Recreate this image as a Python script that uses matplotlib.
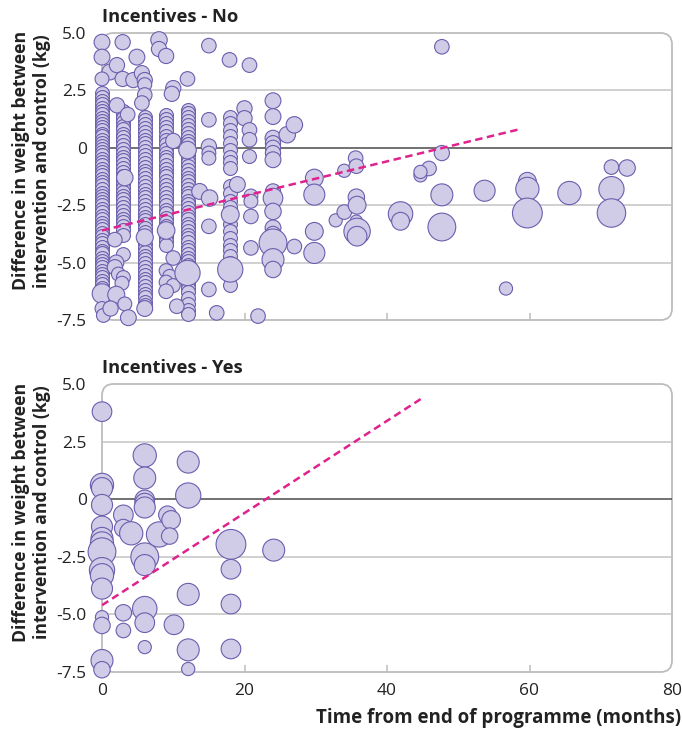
import numpy as np
import matplotlib
matplotlib.use("Agg")
import matplotlib.pyplot as plt
from matplotlib.patches import FancyBboxPatch

plt.rcParams['font.family'] = ['Open Sans', 'DejaVu Sans']

# ---- Incentives - No ----
# dense columns of small studies (all the same weight)
stack_t = [0, 3, 6, 9, 12, 18]
stack_y = [
    [2.38, 2.2, 2.05, 1.92, 1.75, 1.62, 1.48, 1.3, 1.18, 1.02, 0.9, 0.78, 0.62, 0.5, 0.35,
     0.22, 0.1, -0.05, -0.2, -0.32, -0.48, -0.6, -0.75, -0.92, -1.05, -1.2, -1.38, -1.5,
     -1.62, -1.8, -1.95, -2.1, -2.22, -2.38, -2.5, -2.65, -2.8, -2.95, -3.1, -3.28, -3.4,
     -3.55, -3.7, -3.85, -4.0, -4.15, -4.3, -4.48, -4.6, -4.78, -4.92, -5.05, -5.2, -5.35,
     -5.5, -5.62, -5.8, -5.95, -6.1],
    [1.6, 1.45, 1.3, 1.12, 0.95, 0.8, 0.62, 0.45, 0.3, 0.12, -0.05, -0.22, -0.4, -0.55,
     -0.72, -0.9, -1.05, -1.22, -1.4, -1.58, -1.75, -1.92, -2.1, -2.25, -2.42, -2.6, -2.75,
     -2.92, -3.1, -3.25, -3.42, -3.6, -3.78],
    [1.35, 1.2, 1.02, 0.85, 0.7, 0.52, 0.35, 0.2, 0.02, -0.15, -0.32, -0.5, -0.65, -0.82,
     -1.0, -1.15, -1.32, -1.5, -1.65, -1.82, -2.0, -2.15, -2.32, -2.5, -2.65, -2.82, -3.0,
     -3.15, -3.32, -3.5, -3.65, -4.2, -4.35, -4.52, -4.7, -4.85, -5.02, -5.2, -5.35, -5.52,
     -5.7, -5.85, -6.02, -6.2, -6.35, -6.52, -6.7, -6.85],
    [1.45, 1.25, 1.1, 0.9, 0.72, 0.52, 0.35, 0.15, -0.05, -0.22, -0.4, -0.55, -0.75, -0.92,
     -1.1, -1.25, -1.45, -1.62, -1.8, -1.95, -2.15, -2.32, -2.5, -2.7, -2.85, -3.05, -3.22,
     -3.4, -3.88, -4.05, -4.25],
    [1.65, 1.5, 1.32, 1.15, 1.0, 0.8, 0.65, 0.48, 0.3, 0.15, -0.32, -0.48, -0.62, -0.8,
     -0.95, -1.12, -1.3, -1.45, -1.62, -1.8, -1.95, -2.12, -2.3, -2.45, -2.62, -2.8, -2.95,
     -3.12, -3.3, -3.45, -3.62, -3.8, -3.95, -4.12, -4.3, -4.45, -4.62, -4.8, -4.95, -5.12,
     -5.92, -6.12, -6.3, -6.55, -6.8, -7.05, -7.22],
    [1.36, 1.1, 0.78, 0.5, 0.2, -0.09, -0.38, -0.6, -0.88, -1.68, -1.97, -2.3, -2.6, -3.3,
     -3.64, -3.93, -4.22, -4.45, -4.72, -5.0, -5.96],
]

# other studies: time (months), difference (kg), relative weight
no_t = [0, 0, 1.1, 0, 2.9, 4.9, 2.1, 2.9, 4.4, 5.6, 6, 6, 6, 5.6, 2.1, 3.6, 3.2, 1.8, 0, 0, 0.2,
        3, 2, 1.8, 2.3, 3, 2.8, 2, 3.2, 1.2, 3.7, 6, 6,
        8, 8, 9, 10, 9.8, 9, 10, 10, 9, 9.5, 9, 10, 9, 10.5,
        12, 12, 12, 13.7,
        15, 15, 15, 15, 15, 15.1, 15, 15, 16.1,
        17.9, 19, 18, 18,
        20.7, 20, 20, 20.7, 20.7, 20.7, 20.9, 20.9, 20.9, 20.9, 21.9,
        24, 24, 24, 24, 24, 24, 24, 24, 24, 24, 24, 24, 24, 24, 24,
        26, 27, 27, 29.8, 29.8, 29.8, 29.8,
        32.8, 34, 34, 35.6, 35.7, 35.7, 35.8, 35.7, 35.8, 35.8, 41.9, 41.9, 44.7, 45.9, 44.7,
        47.7, 47.7, 47.7, 47.7, 53.7, 56.7, 59.7, 59.7, 59.7, 65.6, 71.5, 73.7, 71.5, 71.5]
no_y = [4.6, 3.95, 3.3, 3.0, 4.6, 3.95, 3.6, 3.0, 2.95, 3.25, 2.95, 2.75, 2.3, 1.95, 1.85, 1.45,
        -1.3, -4.0, -6.35, -7.0, -7.3,
        -4.65, -5.0, -5.2, -5.5, -5.65, -5.9, -6.4, -6.8, -7.0, -7.4, -3.9, -7.0,
        4.7, 4.3, 4.0, 2.6, 2.35, -3.6, 0.3, -4.8, -5.35, -5.6, -5.85, -6.0, -6.25, -6.9,
        3.0, -0.1, -5.45, -1.9,
        4.45, 1.22, 0.06, -0.23, -0.45, -2.19, -3.42, -6.17, -7.19,
        3.83, -1.6, -2.91, -5.3,
        3.6, 1.72, 1.29, 0.78, 0.35, -0.38, -2.1, -2.33, -2.99, -4.36, -7.33,
        2.05, 1.36, 0.42, 0.2, 0.0, -0.23, -0.52, -1.9, -2.19, -2.77, -3.49, -3.75, -4.14,
        -4.87, -5.3,
        0.57, 1.0, -4.3, -1.32, -2.04, -3.64, -4.58,
        -3.16, -2.8, -1.0, -0.45, -0.8, -2.15, -2.5, -3.2, -3.64, -3.85, -2.88, -3.2, -1.2,
        -0.9, -1.05,
        4.4, -0.23, -2.05, -3.45, -1.87, -6.13, -1.46, -1.79, -2.84, -1.97, -0.84, -0.88,
        -1.8, -2.84]
no_w = [1.3, 1.3, 1.3, 1.0, 1.2, 1.3, 1.2, 1.2, 1.2, 1.2, 1.2, 1.0, 1.1, 1.1, 1.2, 1.1,
        1.4, 1.1, 2.0, 1.0, 1.0,
        1.0, 1.2, 1.2, 1.0, 1.0, 1.0, 1.5, 1.0, 1.2, 1.3, 1.5, 1.3,
        1.4, 1.2, 1.2, 1.2, 1.2, 1.6, 1.2, 1.1, 1.0, 1.0, 1.0, 1.0, 1.1, 1.1,
        1.1, 1.6, 3.3, 1.3,
        1.1, 1.1, 1.2, 1.0, 1.0, 1.4, 1.1, 1.1, 1.1,
        1.1, 1.3, 1.65, 3.3,
        1.1, 1.2, 1.2, 1.1, 1.1, 1.0, 1.0, 1.0, 1.1, 1.1, 1.1,
        1.3, 1.3, 1.3, 1.2, 1.2, 1.2, 1.3, 1.2, 2.0, 1.4, 1.3, 1.2, 4.0, 2.5, 1.4,
        1.4, 1.4, 1.1, 1.65, 2.3, 1.65, 2.3,
        0.9, 1.1, 0.9, 1.1, 1.1, 1.4, 1.65, 0.8, 3.6, 2.0, 3.1, 1.65, 0.9, 1.1, 0.9,
        1.1, 1.2, 2.5, 4.0, 2.3, 0.9, 1.65, 2.8, 4.6, 2.8, 1.1, 1.4, 3.3, 4.2]

# ---- Incentives - Yes ----
yes_t = [0, 0, 0, 0, 0, 0, 0, 0, 0, 0, 0, 0, 0, 0, 0,
         3, 3, 4.1, 3, 3,
         6, 6, 6, 6, 6, 6, 6, 6, 6, 6,
         8, 9.2, 9.7, 9.5, 10.1,
         12.1, 12.1, 12.1, 12.1, 12.1,
         18.1, 18.1, 18.1, 18.1, 24.1]
yes_y = [3.8, 0.62, 0.48, -0.25, -1.19, -1.7, -1.92, -2.28, -3.08, -3.3, -3.88, -5.12, -5.48,
         -7.0, -7.4,
         -0.68, -1.26, -1.48, -4.93, -5.7,
         1.9, 0.92, -0.03, -0.17, -0.36, -2.5, -2.86, -4.75, -5.36, -6.42,
         -1.53, -0.68, -0.9, -1.6, -5.45,
         1.61, 0.16, -4.13, -6.54, -7.37,
         -1.96, -3.04, -4.55, -6.5, -2.21]
yes_w = [2.0, 2.8, 2.3, 2.3, 2.3, 2.5, 2.8, 4.0, 3.3, 2.8, 2.3, 0.9, 1.4, 2.5, 1.4,
         2.0, 1.65, 2.8, 1.4, 1.1,
         2.8, 2.5, 2.0, 2.0, 2.3, 4.0, 2.3, 3.1, 2.0, 0.9,
         3.3, 1.65, 1.8, 1.4, 2.0,
         2.5, 3.3, 2.5, 2.5, 0.9,
         4.6, 2.0, 2.0, 2.0, 2.5]

# meta-regression lines (end points)
no_line_t = [0, 58.5]
no_line_y = [-3.6, 0.8]
yes_line_t = [0, 45]
yes_line_y = [-4.6, 4.4]

yticks = [5, 2.5, 0, -2.5, -5, -7.5]
ytick_labels = ['5.0', '2.5', '0', '-2.5', '-5.0', '-7.5']
xticks = [0, 20, 40, 60, 80]

FILL = '#d0cbe6'
EDGE = '#6a5fae'
PINK = '#e0228c'
GRID = '#c4c4c4'
TXT = '#222222'

fig = plt.figure(figsize=(6.82, 7.31), dpi=100)
W, H = 682, 731
ax1 = fig.add_axes([102 / W, 1 - 320 / H, 570 / W, 287 / H])
ax2 = fig.add_axes([102 / W, 1 - 672 / H, 570 / W, 288 / H])


def style(ax, title, show_x):
    ax.set_xlim(0, 80)
    ax.set_ylim(-7.5, 5)
    for s in ax.spines.values():
        s.set_visible(False)
    frame = FancyBboxPatch((0, 0), 1, 1, boxstyle="round,pad=0,rounding_size=0.02",
                           mutation_aspect=2.0, transform=ax.transAxes,
                           facecolor='none', edgecolor='#bdbdbd', lw=1.3, zorder=1,
                           clip_on=False)
    ax.add_patch(frame)
    for g in [2.5, -2.5, -5.0]:
        ax.axhline(g, color=GRID, lw=1.1, zorder=1)
    ax.axhline(0, color='#4a4a4a', lw=1.1, zorder=1)
    ax.set_yticks(yticks)
    ax.set_yticklabels(ytick_labels)
    ax.tick_params(axis='y', length=0, pad=11, labelsize=12.5, colors=TXT)
    ax.set_xticks(xticks)
    ax.tick_params(axis='x', direction='in', length=5, width=1.1, color='#bdbdbd',
                   labelsize=12.5, labelcolor=TXT, pad=8, labelbottom=show_x)
    xt = ax.xaxis.get_major_ticks()
    xt[0].tick1line.set_visible(False)
    xt[-1].tick1line.set_visible(False)
    ax.set_ylabel('Difference in weight between\nintervention and control (kg)',
                  fontsize=12.7, fontweight='bold', color=TXT, linespacing=1.22)
    ax.yaxis.set_label_coords(-0.09, 0.555)
    ax.annotate(title, xy=(0, 1), xycoords='axes fraction', xytext=(0, 8),
                textcoords='offset points', ha='left', va='baseline',
                fontsize=13.2, fontweight='bold', color=TXT)


style(ax1, 'Incentives - No', False)
style(ax2, 'Incentives - Yes', True)

for t, ys in zip(stack_t, stack_y):
    ax1.scatter(np.full(len(ys), t), ys, s=100, c=FILL, edgecolors=EDGE,
                linewidths=0.8, zorder=3, clip_on=False)
ax1.scatter(no_t, no_y, s=np.array(no_w) * 100, c=FILL, edgecolors=EDGE,
            linewidths=0.8, zorder=3, clip_on=False)
ax2.scatter(yes_t, yes_y, s=np.array(yes_w) * 100, c=FILL, edgecolors=EDGE,
            linewidths=0.8, zorder=3, clip_on=False)

ax1.plot(no_line_t, no_line_y, color=PINK, lw=1.8, dashes=(3, 1.8), zorder=4)
ax2.plot(yes_line_t, yes_line_y, color=PINK, lw=1.8, dashes=(3, 1.8), zorder=4)

fig.text(681 / W, 1 - 718 / H, 'Time from end of programme (months)', ha='right',
         va='center', fontsize=13.5, fontweight='bold', color=TXT)

fig.savefig('out.png', dpi=100)
